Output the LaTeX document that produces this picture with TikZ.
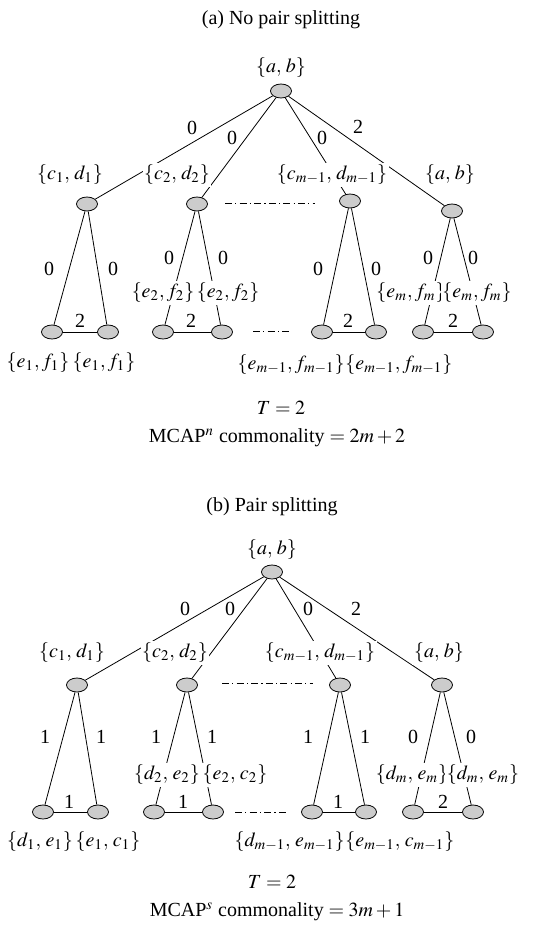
\documentclass[tikz,border=0pt]{standalone}
\usepackage{mathptmx}
\usepackage{fontspec}
\setmainfont{Liberation Serif}
\usetikzlibrary{shapes.geometric}

\tikzset{
  vtx/.style={ellipse,draw,fill=gray!40,minimum width=10.5pt,minimum height=7pt,inner sep=0pt},
  lbl/.style={fill=white,inner sep=0.8pt},
  wt/.style={inner sep=1pt},
  ddot/.style={dash pattern=on 3.5pt off 1.6pt on 0.6pt off 1.6pt},
}
\newcommand{\pr}[2]{\{#1,\,#2\}}

\begin{document}
\begin{tikzpicture}[x=0.5pt,y=-0.5pt,font=\fontsize{10}{12}\selectfont]
    \useasboundingbox (0,0) rectangle (540,926);

    % (a) no pair splitting
    \node (tta) at (281,20) {(a) No pair splitting};
    \node (ra) at (281,91) [vtx] {};
    \node (ka) at (281,68) {$\pr{a}{b}$};

    \node (ua1) at (87,204) [vtx] {};
    \node (ua2) at (197,204) [vtx] {};
    \node (ua3) at (350,201) [vtx] {};
    \node (ua4) at (452,211) [vtx] {};

    \node (la1) at (52,332) [vtx] {};
    \node (la2) at (108,332) [vtx] {};
    \node (la3) at (163,332) [vtx] {};
    \node (la4) at (222,332) [vtx] {};
    \node (la5) at (322,332) [vtx] {};
    \node (la6) at (376,332) [vtx] {};
    \node (la7) at (423,332) [vtx] {};
    \node (la8) at (483,332) [vtx] {};

    \draw (ra)--(ua1); \draw (ra)--(ua2); \draw (ra)--(ua3); \draw (ra)--(ua4);
    \draw (ua1)--(la1); \draw (ua1)--(la2);
    \draw (ua2)--(la3); \draw (ua2)--(la4);
    \draw (ua3)--(la5); \draw (ua3)--(la6);
    \draw (ua4)--(la7); \draw (ua4)--(la8);
    \draw (la1)--(la2); \draw (la3)--(la4); \draw (la5)--(la6); \draw (la7)--(la8);
    \draw[ddot] (225,203) coordinate (pa1) -- (315,203) coordinate (pa2);
    \draw[ddot] (253,331) coordinate (pa3) -- (292,331) coordinate (pa4);

    \node[lbl] (sa1) at (70,175) {$\pr{c_1}{d_1}$};
    \node[lbl] (sa2) at (177,175) {$\pr{c_2}{d_2}$};
    \node[lbl] (sa3) at (332,175) {$\pr{c_{m-1}}{d_{m-1}}$};
    \node[lbl] (sa4) at (450,175) {$\pr{a}{b}$};

    \node[wt] at (192,128) {0};
    \node[wt] at (232,138) {0};
    \node[wt] at (322,138) {0};
    \node[wt] at (358,127) {2};

    \node[wt] at (49,269) {0};  \node[wt] at (113,269) {0};
    \node[wt] at (169,258) {0}; \node[wt] at (223,258) {0};
    \node[wt] at (318,269) {0}; \node[wt] at (376,269) {0};
    \node[wt] at (428,258) {0}; \node[wt] at (473,258) {0};

    \node[wt] at (80,321) {2};  \node[wt] at (191,321) {2};
    \node[wt] at (348,321) {2}; \node[wt] at (453,321) {2};

    \node[wt] at (38,363) {$\{e_1,f_1\}$};
    \node[wt] at (104,363) {$\{e_1,f_1\}$};
    \node[lbl] at (163,293) {$\{e_2,f_2\}$};
    \node[lbl] at (228,293) {$\{e_2,f_2\}$};
    \node[inner sep=0pt,anchor=east] at (345,365) {$\{e_{m-1},f_{m-1}\}$};
    \node[inner sep=0pt,anchor=west] at (345,365) {$\{e_{m-1},f_{m-1}\}$};
    \node[lbl] at (411,293) {$\{e_m,f_m\}$};
    \node[lbl] at (477,293) {$\{e_m,f_m\}$};

    \node at (281,408) {$T = 2$};
    \node at (277,438) {MCAP$^n$ commonality $= 2m + 2$};

    % (b) pair splitting
    \node (ttb) at (272,507) {(b) Pair splitting};
    \node (rb) at (272,572) [vtx] {};
    \node (kb) at (272,550) {$\pr{a}{b}$};

    \node (ub1) at (77,685) [vtx] {};
    \node (ub2) at (187,685) [vtx] {};
    \node (ub3) at (340,685) [vtx] {};
    \node (ub4) at (442,685) [vtx] {};

    \node (lb1) at (43,812) [vtx] {};
    \node (lb2) at (98,812) [vtx] {};
    \node (lb3) at (154,812) [vtx] {};
    \node (lb4) at (213,812) [vtx] {};
    \node (lb5) at (312,812) [vtx] {};
    \node (lb6) at (366,812) [vtx] {};
    \node (lb7) at (413,812) [vtx] {};
    \node (lb8) at (473,812) [vtx] {};

    \draw (rb)--(ub1); \draw (rb)--(ub2); \draw (rb)--(ub3); \draw (rb)--(ub4);
    \draw (ub1)--(lb1); \draw (ub1)--(lb2);
    \draw (ub2)--(lb3); \draw (ub2)--(lb4);
    \draw (ub3)--(lb5); \draw (ub3)--(lb6);
    \draw (ub4)--(lb7); \draw (ub4)--(lb8);
    \draw (lb1)--(lb2); \draw (lb3)--(lb4); \draw (lb5)--(lb6); \draw (lb7)--(lb8);
    \draw[ddot] (222,683) coordinate (pb1) -- (313,683) coordinate (pb2);
    \draw[ddot] (235,812) coordinate (pb3) -- (287,812) coordinate (pb4);

    \node[lbl] (sb1) at (72,653) {$\pr{c_1}{d_1}$};
    \node[lbl] (sb2) at (175,653) {$\pr{c_2}{d_2}$};
    \node[lbl] (sb3) at (320,653) {$\pr{c_{m-1}}{d_{m-1}}$};
    \node[lbl] (sb4) at (439,653) {$\pr{a}{b}$};

    \node[wt] at (185,609) {0};
    \node[wt] at (230,609) {0};
    \node[wt] at (308,609) {0};
    \node[wt] at (356,609) {2};

    \node[wt] at (45,737) {1};  \node[wt] at (101,737) {1};
    \node[wt] at (156,737) {1}; \node[wt] at (212,737) {1};
    \node[wt] at (308,737) {1}; \node[wt] at (365,737) {1};
    \node[wt] at (413,737) {0}; \node[wt] at (471,737) {0};

    \node[wt] at (69,802) {1};  \node[wt] at (183,802) {1};
    \node[wt] at (338,802) {1}; \node[wt] at (443,802) {2};

    \node[wt] at (40,842) {$\pr{d_1}{e_1}$};
    \node[wt] at (108,842) {$\pr{e_1}{c_1}$};
    \node[lbl] at (167,775) {$\pr{d_2}{e_2}$};
    \node[lbl] at (235,775) {$\pr{e_2}{c_2}$};
    \node[inner sep=0pt,anchor=east] at (345,842) {$\pr{d_{m-1}}{e_{m-1}}$};
    \node[inner sep=0pt,anchor=west] at (345,842) {$\pr{e_{m-1}}{c_{m-1}}$};
    \node[lbl] at (412,775) {$\pr{d_m}{e_m}$};
    \node[lbl] at (483,775) {$\pr{d_m}{e_m}$};

    \node at (272,882) {$T = 2$};
    \node at (277,912) {MCAP$^s$ commonality $= 3m + 1$};
\end{tikzpicture}
\end{document}
